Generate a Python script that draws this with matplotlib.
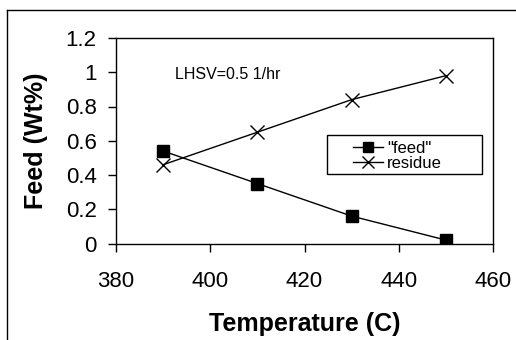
import numpy as np
import matplotlib.pyplot as plt
from matplotlib.lines import Line2D
from matplotlib.patches import Rectangle

plt.rcParams['font.family'] = ['Liberation Sans', 'DejaVu Sans']

temperature = [390, 410, 430, 450]
feed = [0.54, 0.35, 0.16, 0.02]
residue = [0.46, 0.65, 0.84, 0.98]

x_ticks = [380, 400, 420, 440, 460]
y_ticks = [0, 0.2, 0.4, 0.6, 0.8, 1.0, 1.2]
y_tick_labels = ['0', '0.2', '0.4', '0.6', '0.8', '1', '1.2']

fig = plt.figure(figsize=(5.16, 3.4), dpi=100)
ax = fig.add_axes([116/516, 1 - 243.5/340, (493 - 116)/516, (243.5 - 38)/340])

# outer frame of the cropped figure
fig.add_artist(Line2D([7/516, 7/516], [0, 1 - 10/340], color='black', lw=1, transform=fig.transFigure))
fig.add_artist(Line2D([7/516, 1], [1 - 10/340, 1 - 10/340], color='black', lw=1, transform=fig.transFigure))
fig.text(1/516, 1 + 9/340, 'g', fontsize=13, va='baseline', ha='left')

ax.plot(temperature, feed, color='black', lw=1, marker='s', ms=9, mfc='black', mec='black', label='"feed"')
ax.plot(temperature, residue, color='black', lw=1, marker='x', ms=10, mew=1, label='residue')

ax.set_xlim(380, 460)
ax.set_ylim(0, 1.2)
ax.set_xticks(x_ticks)
ax.set_yticks(y_ticks)
ax.set_yticklabels(y_tick_labels)
ax.tick_params(direction='out', length=6, width=1, labelsize=16, pad=8)
ax.tick_params(axis='x', pad=14)
for s in ax.spines.values():
    s.set_linewidth(1)

ax.set_xlabel('Temperature (C)', fontsize=18, fontweight='bold', labelpad=14)
ax.set_ylabel('Feed (Wt%)', fontsize=18, fontweight='bold', labelpad=13)

ax.text(392.5, 0.985, 'LHSV=0.5 1/hr', fontsize=11.5, va='center')

# legend box drawn separately, entries placed inside it
ax.add_patch(Rectangle((0.5597, 0.338), 0.4111, 0.190, transform=ax.transAxes,
                       fill=False, edgecolor='black', lw=1, zorder=5))
leg = ax.legend(loc='upper left', bbox_to_anchor=(0.629, 0.50), fontsize=12, frameon=False,
                handlelength=1.8, handletextpad=0.25, borderpad=0, labelspacing=0.0,
                borderaxespad=0, markerscale=0.8)

fig.savefig('out.png', dpi=100)
